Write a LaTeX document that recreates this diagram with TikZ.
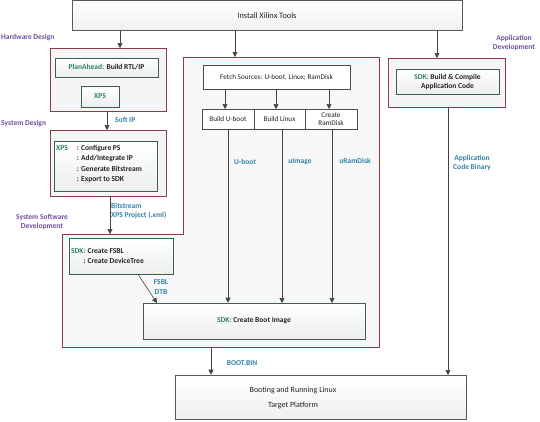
\documentclass[tikz,border=0pt]{standalone}
\usepackage{fontspec}
\setmainfont{Carlito}
\usetikzlibrary{arrows.meta}
\definecolor{purp}{HTML}{6E4D9E}
\definecolor{lblue}{HTML}{3182A8}
\definecolor{grn}{HTML}{2F8060}
\definecolor{maroon}{HTML}{8E3B46}
\definecolor{inbd}{HTML}{3D5E50}
\definecolor{txt}{HTML}{222222}
\definecolor{arr}{HTML}{444444}
\begin{document}
\begin{tikzpicture}[x=1pt,y=-1pt,
  every node/.style={font=\fontsize{7.5}{9}\selectfont, text=txt, inner sep=1pt},
  greybox/.style={draw=black!65, line width=0.6pt, top color=white, bottom color=black!6, rectangle, inner sep=0pt},
  outbox/.style={draw=maroon, line width=0.6pt, fill=black!4, rectangle, inner sep=0pt},
  inbox/.style={draw=inbd, line width=0.6pt, top color=white, bottom color=inbd!10, rectangle, inner sep=0pt, font=\fontsize{7.5}{9}\selectfont\bfseries},
  plainbox/.style={draw=black!70, line width=0.5pt, fill=white, rectangle, inner sep=0pt, align=center, font=\fontsize{7.2}{8}\selectfont},
  purplbl/.style={text=purp, font=\fontsize{7.5}{9.5}\selectfont\bfseries, align=center},
  bluelbl/.style={text=lblue, font=\fontsize{7.5}{9.5}\selectfont\bfseries, align=center},
  arrw/.style={draw=arr, line width=0.6pt, -{Triangle[width=5pt,length=5pt]}},
  ln/.style={draw=arr, line width=0.6pt}
]
\useasboundingbox (0,0) rectangle (540,421);

% L-shaped software region
\draw[draw=maroon, line width=0.6pt, fill=black!3] (183,57) -- (379,57) -- (379,347) -- (62,347) -- (62,234) -- (183,234) -- cycle;
\coordinate (mtop) at (235,57);
\coordinate (ltop) at (110,234);
\coordinate (lbot) at (211,347);

% top box
\node[greybox, minimum width=390pt, minimum height=30pt, font=\fontsize{8.3}{10}\selectfont] (top) at (267,15.5) {Install Xilinx Tools};

% hardware design
\node[outbox, minimum width=116pt, minimum height=63pt] (hw) at (108,79.5) {};
\node[inbox, minimum width=103pt, minimum height=19pt] (plan) at (106.5,67.5) {\textcolor{grn}{PlanAhead:} Build RTL/IP};
\node[inbox, minimum width=38pt, minimum height=21pt] (xps1) at (100,96.5) {\textcolor{grn}{XPS}};

% system design
\node[outbox, minimum width=116pt, minimum height=66pt] (sys) at (108,163) {};
\node[inbox, minimum width=103pt, minimum height=50pt, align=left] (xps2) at (105.5,166) {};
\node[anchor=north west, inner sep=0pt, font=\fontsize{7.5}{10.3}\selectfont\bfseries] (xpstxt) at (56,143) {%
  \begin{tabular}{@{}l@{\hspace{9pt}}l@{}}
  \textcolor{grn}{XPS} & : Configure PS\\
   & : Add/Integrate IP\\
   & : Generate Bitstream\\
   & : Export to SDK
  \end{tabular}};

% application
\node[outbox, minimum width=117pt, minimum height=49pt] (app) at (446.5,82.5) {};
\node[inbox, minimum width=103pt, minimum height=25pt, align=center] (appin) at (447.5,81.5) {\textcolor{grn}{SDK:} Build \& Compile\\Application Code};

% software
\node[plainbox, minimum width=147pt, minimum height=24pt] (fetch) at (276.5,77) {Fetch Sources: U-boot, Linux; RamDisk};
\node[plainbox, minimum width=52pt, minimum height=20pt] (bu) at (228,119) {Build U-boot};
\node[plainbox, minimum width=51pt, minimum height=20pt] (bl) at (279.5,119) {Build Linux};
\node[plainbox, minimum width=52pt, minimum height=20pt] (cr) at (331,119) {Create\\RamDisk};

\node[inbox, minimum width=104pt, minimum height=36pt] (fsbl) at (121,256) {};
\node[anchor=west, inner sep=0pt, font=\fontsize{7.5}{10.5}\selectfont\bfseries] (fsbltxt) at (71,256.5) {%
  \begin{tabular}{@{}r@{\hspace{2pt}}l@{}}
  \textcolor{grn}{SDK:} & Create FSBL\\
  : & Create DeviceTree
  \end{tabular}};
\node[inbox, minimum width=222pt, minimum height=36pt] (boot) at (254,321) {\textcolor{grn}{SDK:} Create Boot Image};

% target
\node[greybox, minimum width=291pt, minimum height=44pt] (target) at (320.5,397) {};
\node[align=center, font=\fontsize{8}{15}\selectfont] (targettxt) at (293,397.5) {Booting and Running Linux\\Target Platform};

% arrows
\draw[arrw] (top.south -| 120,0) -- (120,48);
\draw[arrw] (top.south -| mtop) -- (mtop);
\draw[arrw] (top.south -| 437,0) -- (437,58);
\draw[arrw] (hw.south -| 107,0) -- (107,130);
\draw[arrw] (sys.south -| ltop) -- (ltop);
\draw[arrw] (fetch.south -| 225,0) -- (225,109);
\draw[arrw] (fetch.south -| 276,0) -- (276,109);
\draw[arrw] (fetch.south -| 329,0) -- (329,109);
\draw[arrw] (bu.south) -- (bu.south |- boot.north);
\draw[arrw] (bl.south -| 282,0) -- (282,303);
\draw[arrw] (cr.south -| 332,0) -- (332,303);
\draw[arrw] (fsbl.south -| 138,0) -- (157,303);
\draw[arrw] (lbot) -- (lbot |- target.north);
\draw[arrw] (app.south -| 448,0) -- (448,375);

% labels
\node[purplbl, anchor=west] (lhw) at (0,38) {Hardware Design};
\node[purplbl, anchor=west] (lsys) at (0,123) {System Design};
\node[purplbl] (lssd) at (42,222) {System Software\\Development};
\node[purplbl] (lapp) at (514,43) {Application\\Development};
\node[bluelbl, anchor=west] (lsoft) at (114,120) {Soft IP};
\node[bluelbl, anchor=west, align=left] (lbit) at (110,211) {Bitstream\\XPS Project (.xml)};
\node[bluelbl] (lub) at (245,162) {U-boot};
\node[bluelbl] (lui) at (300,162) {uImage};
\node[bluelbl] (lur) at (355,161) {uRamDisk};
\node[bluelbl] (lfd) at (161,287) {FSBL\\DTB};
\node[bluelbl] (lbb) at (242,363) {BOOT.BIN};
\node[bluelbl] (lacb) at (472,163) {Application\\Code Binary};
\end{tikzpicture}
\end{document}
